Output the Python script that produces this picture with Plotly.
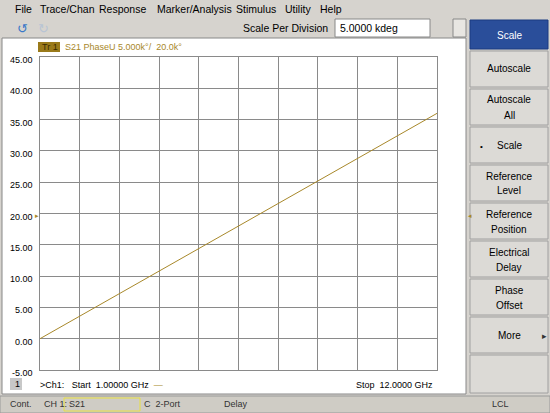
import plotly.graph_objects as go

freq_ghz = [1.0, 3.75, 6.5, 9.25, 12.0]
phase_kdeg = [0.0, 9.0, 18.0, 27.0, 36.0]
y_ticks = [45, 40, 35, 30, 25, 20, 15, 10, 5, 0, -5]
menu_items = ["File", "Trace/Chan", "Response", "Marker/Analysis", "Stimulus", "Utility", "Help"]
menu_x = [13, 38, 97, 155, 234, 283, 318]
buttons = [["Scale"], ["Autoscale"], ["Autoscale", "All"], ["Scale"], ["Reference", "Level"],
           ["Reference", "Position"], ["Electrical", "Delay"], ["Phase", "Offset"], ["More"], [""]]

W, H = 550, 413
def px(x): return x / W
def py(y): return 1 - y / H

X0, X1, Y0, Y1 = 40, 437, 57, 370
BG = "#d6d3ce"
TR = "#a8882a"
FONT = "Liberation Sans"

fig = go.Figure()
fig.add_trace(go.Scatter(x=freq_ghz, y=phase_kdeg, mode="lines",
                         line=dict(color=TR, width=1), hoverinfo="skip"))

shapes = []
ann = []
def rect(x0, y0, x1, y1, fill, line="rgba(0,0,0,0)", lw=1):
    shapes.append(dict(type="rect", xref="paper", yref="paper", x0=px(x0), x1=px(x1),
                       y0=py(y1), y1=py(y0), fillcolor=fill, line=dict(color=line, width=lw), layer="below"))
def text(x, y, s, size=10, color="black", xanchor="left"):
    ann.append(dict(x=px(x), y=py(y), xref="paper", yref="paper", text=s, showarrow=False,
                    xanchor=xanchor, yanchor="middle", font=dict(family=FONT, size=size, color=color)))

# window
rect(0, 0, 550, 413, BG)
rect(2, 38, 466, 394, "white", "#888888")
rect(0, 396, 550, 413, "#cfccc5", "#999999")
# top bar
for s, x in zip(menu_items, menu_x):
    text(x, 9, s, 10.5)
text(330, 28, "Scale Per Division", 10.5, xanchor="right")
rect(335, 19, 430, 37, "white", "#888888")
text(338, 28, "5.0000 kdeg", 10.5)
rect(453, 19, 466, 37, "#e8e6e2", "#888888")
text(15, 28, "↺", 13, "#3a78c8")
text(36, 28, "↻", 13, "#b8c4d4")

# trace label
rect(38, 42, 60, 52, "#9a7a1a")
text(40, 47, "Tr 1", 9, "#3a2a00")
text(63, 47, "S21 PhaseU 5.000k°/  20.0k°", 9, TR)
# bottom plot text
rect(10, 378, 22, 390, "#c8c8c8")
text(13, 384, "1", 9)
text(38, 385, ">Ch1:   Start  1.00000 GHz  <span style='color:%s'>—</span>" % TR, 9)
text(435, 385, "Stop  12.0000 GHz", 9, xanchor="right")
# status bar
text(8, 404, "Cont.", 9, "#333")
text(42, 404, "CH 1:", 9, "#333")
rect(64, 398, 140, 411, "rgba(0,0,0,0)", "#e8e040")
text(67, 404, "S21", 9, "#333")
text(142, 404, "C  2-Port", 9, "#333")
text(222, 404, "Delay", 9, "#333")
text(490, 404, "LCL", 9, "#333")
# markers
text(41, 215, "▸", 7, TR, "right")
text(466, 215, "◂", 7, TR)

# right buttons
edges = [20, 51, 89, 127, 165, 203, 241, 279, 317, 355, 395]
for i, lab in enumerate(buttons):
    a, b = edges[i], edges[i + 1]
    if i == 0:
        rect(470, a, 548, b - 2, "#2a4e9a", "#1a3a80")
        text(509, (a + b) / 2, lab[0], 10, "white", "center")
        continue
    rect(470, a, 548, b - 2, "#dcdad6", "#a0a0a0")
    if len(lab) == 1:
        s = lab[0]
        if i == 3: text(478, (a + b) / 2, "•", 8)
        if i == 8: text(540, (a + b) / 2, "▸", 9, "#333")
        text(509, (a + b) / 2 - 1, s, 10, "black", "center")
    else:
        text(509, (a + b) / 2 - 8, lab[0], 10, "black", "center")
        text(509, (a + b) / 2 + 7, lab[1], 10, "black", "center")

# y labels
for v in y_ticks:
    yy = Y0 + (45 - v) / 50 * (Y1 - Y0)
    text(35, yy + 3, "%.2f" % v, 9, "black", "right")

fig.update_layout(
    width=W, height=H, margin=dict(l=0, r=0, t=0, b=0),
    paper_bgcolor=BG, plot_bgcolor="white", showlegend=False,
    shapes=shapes, annotations=ann,
    xaxis=dict(domain=[px(X0), px(X1)], range=[1, 12], tickvals=[1 + 1.1 * i for i in range(11)],
               showticklabels=False, showgrid=True, gridcolor="#8a8a8a", gridwidth=1,
               zeroline=False, showline=True, linecolor="#8a8a8a", mirror=True),
    yaxis=dict(domain=[py(Y1), py(Y0)], range=[-5, 45], tickvals=y_ticks,
               showticklabels=False, showgrid=True, gridcolor="#8a8a8a", gridwidth=1,
               zeroline=False, showline=True, linecolor="#8a8a8a", mirror=True),
)
fig.write_html("out.html", config={"displayModeBar": False},
               post_script="document.body.style.margin='0';document.body.style.overflow='hidden';")
